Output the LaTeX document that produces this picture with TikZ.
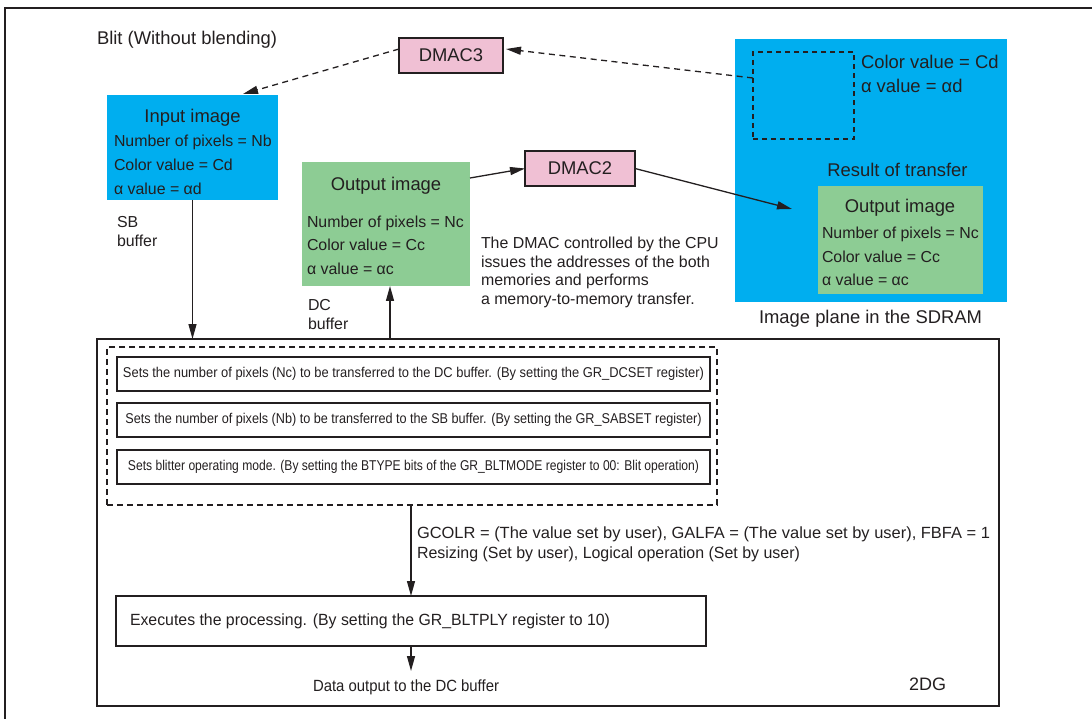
\documentclass[tikz,border=0pt]{standalone}
\usepackage{fontspec}
\usepackage{graphicx}
\setmainfont{Liberation Sans}
\usetikzlibrary{arrows.meta}
\definecolor{cyanb}{HTML}{00AEEF}
\definecolor{greenb}{HTML}{8DCC94}
\definecolor{pinkb}{HTML}{F0C0D4}
\definecolor{ink}{HTML}{231F20}
\newcommand\FBig{\fontsize{18.4}{22}\selectfont}
\newcommand\FMed{\fontsize{15.9}{19}\selectfont}
\newcommand\FLow{\fontsize{16.2}{19}\selectfont}
\newcommand\FCond{\fontsize{14.2}{16}\selectfont}
\newcommand\fitw[2]{\resizebox{#1pt}{\height}{#2}}
\begin{document}
\begin{tikzpicture}[x=1pt,y=-1pt,
  every node/.style={inner sep=0pt,outer sep=0pt,text=ink},
  tl/.style={anchor=base west},
  tc/.style={anchor=base},
  arr/.style={draw=ink,line width=1.3pt,-{Triangle[length=15pt,width=8pt]}},
  darr/.style={draw=ink,line width=1.3pt,dash pattern=on 6pt off 4.5pt,-{Triangle[length=15pt,width=8pt]}},
  area/.style={anchor=north west},
  pinkbox/.style={fill=pinkb,draw=ink,line width=1.4pt,minimum width=#1,minimum height=35pt,font=\FBig},
  stepbox/.style={area,draw=ink,line width=2.8pt,minimum width=593pt,minimum height=34pt}]
\useasboundingbox (0,0) rectangle (1092,719);
% outer frame
\draw[ink,line width=2.4pt] (5,719) -- (5,8) -- (1092,8);
\node[tl,font=\FBig] (title) at (97,44.3) {Blit (Without blending)};
% DMAC3
\node[pinkbox=104pt] (dmac3) at (451,55.5) {DMAC3};
% input image
\node[area,fill=cyanb,minimum width=171pt,minimum height=105pt] (inp) at (107,95) {};
\node[tc,font=\FBig] (inpt) at (192.5,122.5) {Input image};
\node[tl,font=\FMed] (inp1) at (114,146.7) {Number of pixels = Nb};
\node[tl,font=\FMed] (inp2) at (114,170.7) {Color value = Cd};
\node[tl,font=\FMed] (inp3) at (114,194.3) {α value = αd};
\node[tl,font=\FMed] (sb1) at (117,227.5) {SB};
\node[tl,font=\FMed] (sb2) at (117,246.8) {buffer};
% right blue area
\node[area,fill=cyanb,minimum width=272pt,minimum height=263pt] (rb) at (735,39) {};
\node[area,draw=ink,line width=1.2pt,dash pattern=on 5pt off 4pt,minimum width=101pt,minimum height=87pt] (dr) at (753,52) {};
\node[tl,font=\FBig] (rb1) at (861,69) {Color value = Cd};
\node[tl,font=\FBig] (rb2) at (861,93) {α value = αd};
\node[tc,font=\FBig] (rres) at (897.5,176.7) {Result of transfer};
\node[area,fill=greenb,minimum width=165pt,minimum height=108pt] (ig) at (818,186) {};
\node[tc,font=\FBig] (igt) at (900,212.7) {Output image};
\node[tl,font=\FMed] (ig1) at (822,238.3) {Number of pixels = Nc};
\node[tl,font=\FMed] (ig2) at (822,262.3) {Color value = Cc};
\node[tl,font=\FMed] (ig3) at (822,285.7) {α value = αc};
\node[tc,font=\FBig] (rbl) at (870.5,323.3) {Image plane in the SDRAM};
% middle output image
\node[area,fill=greenb,minimum width=168pt,minimum height=124pt] (og) at (302,162) {};
\node[tc,font=\FBig] (ogt) at (386,190.7) {Output image};
\node[tl,font=\FMed] (og1) at (307,227.3) {Number of pixels = Nc};
\node[tl,font=\FMed] (og2) at (307,251) {Color value = Cc};
\node[tl,font=\FMed] (og3) at (307,274.3) {α value = αc};
\node[tl,font=\FMed] (dc1) at (308,310.7) {DC};
\node[tl,font=\FMed] (dc2) at (308,330) {buffer};
% DMAC2
\node[pinkbox=110pt] (dmac2) at (580,168.5) {DMAC2};
% explanation
\node[tl,font=\FMed] (ex1) at (481,248.3) {The DMAC controlled by the CPU};
\node[tl,font=\FMed] (ex2) at (481,267.3) {issues the addresses of the both};
\node[tl,font=\FMed] (ex3) at (481,286) {memories and performs};
\node[tl,font=\FMed] (ex4) at (481,304.3) {a memory-to-memory transfer.};
% 2DG frame
\node[area,draw=ink,line width=2.2pt,minimum width=902pt,minimum height=367pt] (g2) at (97,339) {};
\node[area,draw=ink,line width=2pt,dash pattern=on 6pt off 4pt,minimum width=610pt,minimum height=158pt] (db) at (107,347) {};
\node[stepbox] (b1) at (117,357) {\fitw{581}{\FCond Sets the number of pixels (Nc) to be transferred to the DC buffer. (By setting the GR\_DCSET register)}};
\node[stepbox] (b2) at (117,403) {\fitw{576}{\FCond Sets the number of pixels (Nb) to be transferred to the SB buffer. (By setting the GR\_SABSET register)}};
\node[stepbox] (b3) at (117,450) {\fitw{571}{\FCond Sets blitter operating mode. (By setting the BTYPE bits of the GR\_BLTMODE register to 00: Blit operation)}};
\node[tl] (gc1) at (417,538) {\fitw{573}{\FLow GCOLR = (The value set by user), GALFA = (The value set by user), FBFA = 1}};
\node[tl] (gc2) at (417,558) {\fitw{383}{\FLow Resizing (Set by user), Logical operation (Set by user)}};
\node[area,draw=ink,line width=2.2pt,minimum width=590pt,minimum height=50pt] (exe) at (116,596) {};
\node[tl] (exet) at (130,625) {\fitw{480}{\FLow Executes the processing. (By setting the GR\_BLTPLY register to 10)}};
\node[tl] (doutt) at (313,691) {\fitw{186}{\FLow Data output to the DC buffer}};
\node[tl,font=\fontsize{18}{22}\selectfont] (g2l) at (909,690) {2DG};
% connectors
\draw[darr] ([yshift=6.5pt]dmac3.west) -- ([xshift=50.5pt,yshift=1pt]inp.north);
\draw[darr] ([yshift=17.5pt]dr.west) -- ([xshift=3pt,yshift=6.5pt]dmac3.east);
\draw[arr] ([yshift=46pt]og.east) -- (dmac2.west);
\coordinate (tipR) at (792,209);
\draw[arr] (dmac2.east) -- (tipR);
\draw[arr] (inp.south) -- (inp.south |- g2.north);
\coordinate (dcx) at ([xshift=4pt]og.south);
\draw[arr] (dcx |- g2.north) -- (dcx);
\draw[arr] (exe.north |- db.south) -- (exe.north);
\coordinate (dout) at (411,671);
\draw[arr] (exe.south) -- (dout);
\end{tikzpicture}
\end{document}
